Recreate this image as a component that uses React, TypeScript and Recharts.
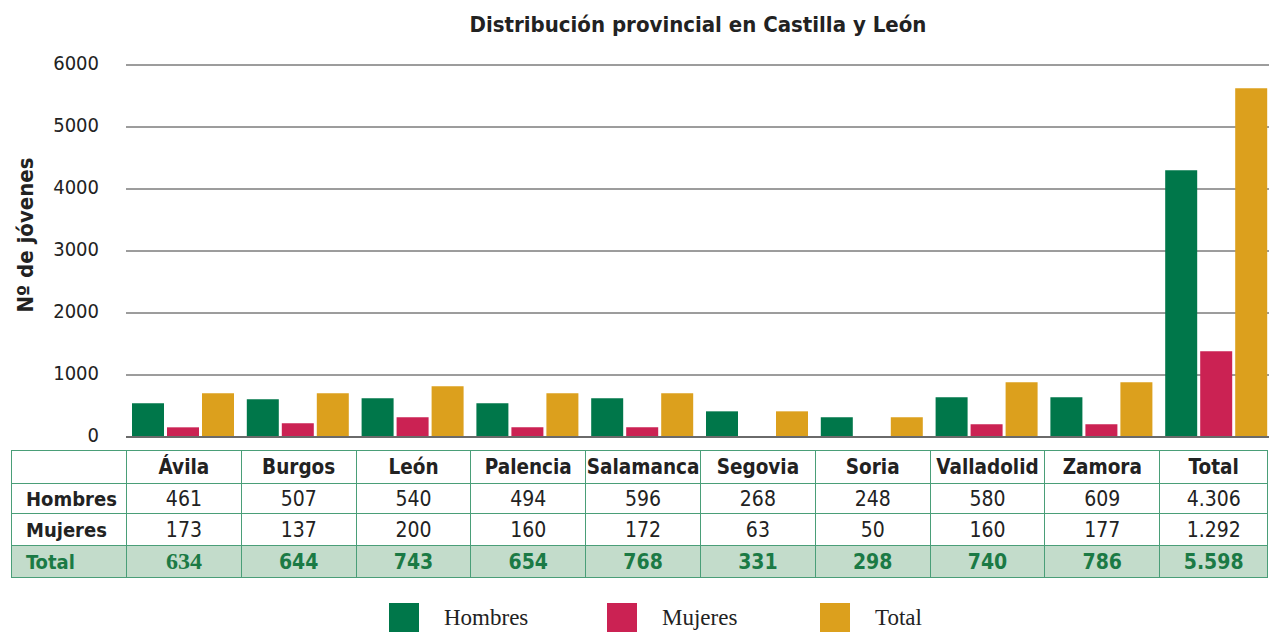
import React from 'react';
import { BarChart, Bar, XAxis, YAxis, CartesianGrid, ReferenceLine } from 'recharts';

const provincias = ['Ávila', 'Burgos', 'León', 'Palencia', 'Salamanca', 'Segovia', 'Soria', 'Valladolid', 'Zamora', 'Total'];

// alturas de las barras tal como se dibujan
const hombresBarra = [543, 608, 624, 543, 624, 414, 318, 640, 640, 4302];
const mujeresBarra = [156, 221, 318, 156, 156, 0, 0, 205, 205, 1382];
const totalBarra = [705, 705, 817, 705, 705, 414, 318, 882, 882, 5624];

// valores de la tabla inferior
const hombresTabla = ['461', '507', '540', '494', '596', '268', '248', '580', '609', '4.306'];
const mujeresTabla = ['173', '137', '200', '160', '172', '63', '50', '160', '177', '1.292'];
const totalTabla = ['634', '644', '743', '654', '768', '331', '298', '740', '786', '5.598'];

const yTicks = [0, 1000, 2000, 3000, 4000, 5000, 6000];

const series = [
  { key: 'hombres', name: 'Hombres', color: '#00774a' },
  { key: 'mujeres', name: 'Mujeres', color: '#cb2253' },
  { key: 'total', name: 'Total', color: '#dca01d' },
];

const data = provincias.map((p, i) => ({
  provincia: p,
  hombres: hombresBarra[i],
  mujeres: mujeresBarra[i],
  total: totalBarra[i],
}));

const FONT = "'Liberation Sans Narrow', 'DejaVu Sans Condensed', 'Noto Sans', sans-serif";
const BORDER = '1.5px solid #4a9e78';

export default function App() {
  const cell: React.CSSProperties = {
    border: BORDER,
    textAlign: 'center',
    padding: 0,
    fontSize: 21,
    color: '#222',
  };
  const labelCell: React.CSSProperties = { ...cell, fontWeight: 700, fontSize: 20, textAlign: 'left', paddingLeft: 14 };

  return (
    <div style={{ position: 'absolute', left: 0, top: 0, width: 1269, height: 632, overflow: 'hidden', background: '#fff', fontFamily: FONT }}>
      <div style={{ position: 'absolute', left: 0, width: 1396, top: 12, textAlign: 'center', fontSize: 22, fontWeight: 700, color: '#222' }}>
        Distribución provincial en Castilla y León
      </div>
      <div
        style={{
          position: 'absolute', left: 25, top: 235, transform: 'translate(-50%, -50%) rotate(-90deg)',
          whiteSpace: 'nowrap', fontSize: 22, fontWeight: 700, color: '#222',
        }}
      >
        Nº de jóvenes
      </div>
      <div style={{ position: 'absolute', left: 0, top: 0 }}>
        <BarChart width={1280} height={449} data={data} margin={{ top: 65, right: 6, bottom: 12, left: 0 }} barSize={32} barGap={3}>
          <CartesianGrid vertical={false} stroke="#3a3a3a" />
          <XAxis dataKey="provincia" hide />
          <YAxis
            width={126}
            domain={[0, 6000]}
            ticks={yTicks}
            interval={0}
            axisLine={false}
            tickLine={false}
            tickSize={0}
            tickMargin={27}
            tick={{ fill: '#222', fontSize: 20, fontFamily: FONT, dy: -2 }}
          />
          {series.map((s) => (
            <Bar key={s.key} dataKey={s.key} name={s.name} fill={s.color} isAnimationActive={false} />
          ))}
          <ReferenceLine y={0} stroke="#6a6a6a" strokeWidth={2} />
        </BarChart>
      </div>
      <table
        style={{
          position: 'absolute', left: 11, top: 450, width: 1256, borderCollapse: 'collapse',
          tableLayout: 'fixed', fontFamily: FONT,
        }}
      >
        <colgroup>
          <col style={{ width: 115 }} />
          {provincias.map((p, i) => (
            <col key={p} style={{ width: i === provincias.length - 1 ? 108 : 114.8 }} />
          ))}
        </colgroup>
        <tbody>
          <tr style={{ height: 33 }}>
            <td style={cell}></td>
            {provincias.map((p) => (
              <td key={p} style={{ ...cell, fontWeight: 700, fontSize: 20.5 }}>{p}</td>
            ))}
          </tr>
          <tr style={{ height: 30 }}>
            <td style={labelCell}>Hombres</td>
            {hombresTabla.map((v, i) => (
              <td key={i} style={cell}>{v}</td>
            ))}
          </tr>
          <tr style={{ height: 32 }}>
            <td style={labelCell}>Mujeres</td>
            {mujeresTabla.map((v, i) => (
              <td key={i} style={cell}>{v}</td>
            ))}
          </tr>
          <tr style={{ height: 32, background: '#c3dccb' }}>
            <td style={{ ...labelCell, color: '#1b7a45' }}>Total</td>
            {totalTabla.map((v, i) => (
              <td
                key={i}
                style={{
                  ...cell, fontWeight: 700, fontSize: i === 0 ? 24 : 21, color: '#1b7a45',
                  fontFamily: i === 0 ? "'Liberation Serif', serif" : FONT,
                }}
              >
                {v}
              </td>
            ))}
          </tr>
        </tbody>
      </table>
      {series.map((s, i) => {
        const lefts = [389, 607, 820];
        return (
          <div key={s.key} style={{ position: 'absolute', left: lefts[i], top: 603, display: 'flex', alignItems: 'center' }}>
            <div style={{ width: 30, height: 29, background: s.color }} />
            <span style={{ marginLeft: 25, fontFamily: "'Liberation Serif', serif", fontSize: 23, color: '#222' }}>{s.name}</span>
          </div>
        );
      })}
    </div>
  );
}
